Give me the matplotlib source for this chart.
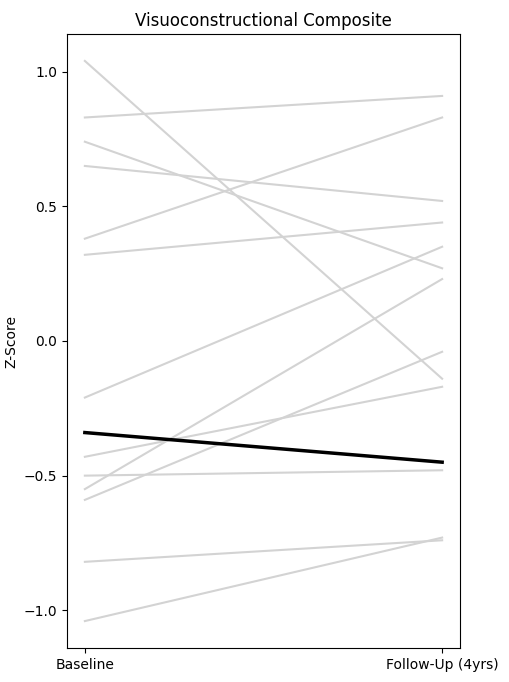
import matplotlib
matplotlib.use("Agg")
import matplotlib.pyplot as plt

timepoints = ["Baseline", "Follow-Up (4yrs)"]
baseline = [1.04, 0.83, 0.74, 0.65, 0.38, 0.32, -0.21, -0.43, -0.55, -0.59, -0.50, -0.82, -1.04]
followup = [-0.14, 0.91, 0.27, 0.52, 0.83, 0.44, 0.35, -0.17, 0.23, -0.04, -0.48, -0.74, -0.73]
mean_line = [-0.34, -0.45]

fig = plt.figure(figsize=(5.09, 6.82), dpi=100)
ax = fig.add_axes([67/509, 34/682, 393/509, 614/682])
for b, f in zip(baseline, followup):
    ax.plot([0, 1], [b, f], color="lightgray", lw=1.5)
ax.plot([0, 1], mean_line, color="black", lw=2.5)
ax.set_xticks([0, 1])
ax.set_xticklabels(timepoints)
ax.set_xlim(-0.05, 1.05)
ax.set_ylim(-1.14, 1.14)
ax.set_yticks([-1.0, -0.5, 0.0, 0.5, 1.0])
ax.set_ylabel("Z-Score")
ax.set_title("Visuoconstructional Composite")
fig.savefig("out.png", dpi=100)
